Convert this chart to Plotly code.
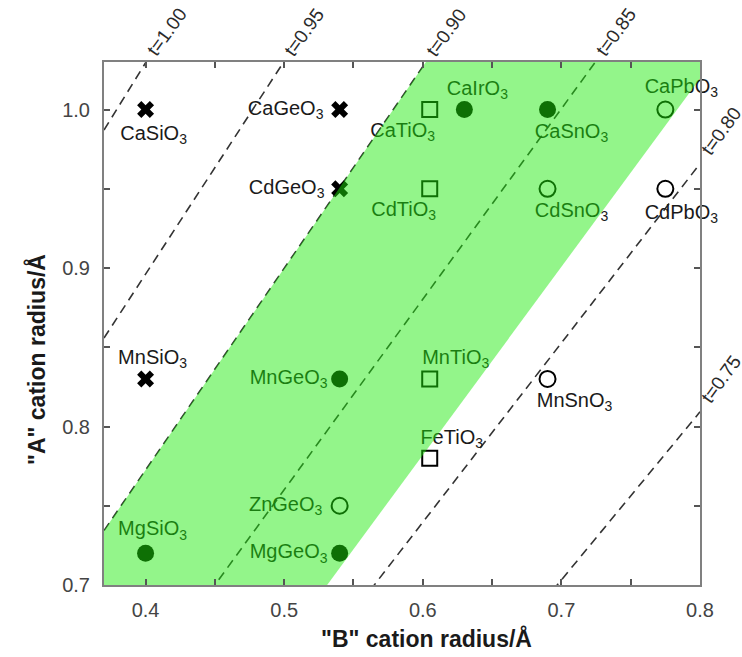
import math
import plotly.graph_objects as go

# ---- data -------------------------------------------------------------
# Six-coordinate ionic radii (Å) of the B and A cations for each ABO3 compound
cross_names = ["CaSiO3", "CaGeO3", "CdGeO3", "MnSiO3"]
cross_b = [0.40, 0.54, 0.54, 0.40]
cross_a = [1.00, 1.00, 0.95, 0.83]

filled_names = ["CaIrO3", "CaSnO3", "MnGeO3", "MgSiO3", "MgGeO3"]
filled_b = [0.63, 0.69, 0.54, 0.40, 0.54]
filled_a = [1.00, 1.00, 0.83, 0.72, 0.72]

open_names = ["CaPbO3", "CdSnO3", "CdPbO3", "MnSnO3", "ZnGeO3"]
open_b = [0.775, 0.69, 0.775, 0.69, 0.54]
open_a = [1.00, 0.95, 0.95, 0.83, 0.75]

square_names = ["CaTiO3", "CdTiO3", "MnTiO3", "FeTiO3"]
square_b = [0.605, 0.605, 0.605, 0.605]
square_a = [1.00, 0.95, 0.83, 0.78]

# Iso-tolerance-factor lines: t value and the B radius where the line meets A = 0.70 Å
tol_t = [1.00, 0.95, 0.90, 0.85, 0.80, 0.75]
tol_b0 = [0.167, 0.254, 0.343, 0.450, 0.565, 0.697]

# Shaded stability window: bounded above by t = 0.90 and below by t = 0.84
band_upper_t, band_upper_b0 = 0.90, 0.343
band_lower_t, band_lower_b0 = 0.84, 0.531

x_ticks = [0.4, 0.5, 0.6, 0.7, 0.8]
y_ticks = [0.7, 0.8, 0.9, 1.0]

# ---- layout constants ---------------------------------------------------
XR = (0.37, 0.80)
YR = (0.70, 1.03)
W, H = 742, 657
ML, MR, MT, MB = 104, 42, 62, 72
PW, PH = W - ML - MR, H - MT - MB
PX_X = PW / (XR[1] - XR[0])     # pixels per Å along x
PX_Y = PH / (YR[1] - YR[0])     # pixels per Å along y

FONT = "Liberation Sans, Arial, Helvetica, sans-serif"
INK = "#1a1a1a"

# label offsets (pixels, y up) from each marker
label_offset = {
    "CaSiO3": (8, -25), "CaGeO3": (-54, 0), "CdGeO3": (-53, 0), "MnSiO3": (7, 20),
    "CaIrO3": (13, 20), "CaSnO3": (24, -23), "MnGeO3": (-51, 0), "MgSiO3": (7, 23),
    "MgGeO3": (-51, 0), "CaPbO3": (16, 22), "CdSnO3": (24, -23), "CdPbO3": (16, -25),
    "MnSnO3": (27, -23), "ZnGeO3": (-54, 0), "CaTiO3": (-27, -22), "CdTiO3": (-26, -22),
    "MnTiO3": (26, 20), "FeTiO3": (22, 19),
}


def tol_line(t, b0, rb):
    return YR[0] + t * math.sqrt(2) * (rb - b0)


def tol_inv(t, b0, ra):
    return b0 + (ra - YR[0]) / (t * math.sqrt(2))


def chem(name):
    return name[:-1] + "<sub>" + name[-1] + "</sub>"


fig = go.Figure()

# dashed tolerance-factor lines
for t, b0 in zip(tol_t, tol_b0):
    xs = [XR[0], XR[1]]
    fig.add_trace(go.Scatter(
        x=xs, y=[tol_line(t, b0, v) for v in xs], mode="lines",
        line=dict(color="#333333", width=1.6, dash="9px,6px"),
        hoverinfo="skip", showlegend=False, cliponaxis=True))

# markers
fig.add_trace(go.Scatter(
    x=cross_b, y=cross_a, mode="markers",
    marker=dict(symbol="x", size=15, color="black", line=dict(width=0)),
    showlegend=False))
fig.add_trace(go.Scatter(
    x=filled_b, y=filled_a, mode="markers",
    marker=dict(symbol="circle", size=17, color="black", line=dict(width=0)),
    showlegend=False))
fig.add_trace(go.Scatter(
    x=open_b, y=open_a, mode="markers",
    marker=dict(symbol="circle-open", size=16, color="black", line=dict(width=2)),
    showlegend=False))
fig.add_trace(go.Scatter(
    x=square_b, y=square_a, mode="markers",
    marker=dict(symbol="square-open", size=15, color="black", line=dict(width=2)),
    showlegend=False))

# compound labels
all_names = cross_names + filled_names + open_names + square_names
all_b = cross_b + filled_b + open_b + square_b
all_a = cross_a + filled_a + open_a + square_a
lx, ly = [], []
for n, b, a in zip(all_names, all_b, all_a):
    dx, dy = label_offset[n]
    lx.append(b + dx / PX_X)
    ly.append(a + dy / PX_Y)
fig.add_trace(go.Scatter(
    x=lx, y=ly, mode="text", text=[chem(n) for n in all_names],
    textposition="middle center",
    textfont=dict(family=FONT, size=20, color=INK),
    hoverinfo="skip", showlegend=False, cliponaxis=False))

# translucent green window drawn over everything in the plot area
ux_top = tol_inv(band_upper_t, band_upper_b0, YR[1])
uy_left = tol_line(band_upper_t, band_upper_b0, XR[0])
ly_right = tol_line(band_lower_t, band_lower_b0, XR[1])
poly_x = [XR[0], band_lower_b0, XR[1], XR[1], ux_top, XR[0], XR[0]]
poly_y = [YR[0], YR[0], ly_right, YR[1], YR[1], uy_left, YR[0]]
fig.add_trace(go.Scatter(
    x=poly_x, y=poly_y, mode="lines", fill="toself",
    fillcolor="rgba(30,235,10,0.48)", line=dict(width=0),
    hoverinfo="skip", showlegend=False))

# t labels at the end of each line
annotations = []
for t, b0 in zip(tol_t, tol_b0):
    xt = tol_inv(t, b0, YR[1])
    if xt <= XR[1]:
        ex, ey, sx, sy = xt, YR[1], 20, 30
    else:
        ex, ey, sx, sy = XR[1], tol_line(t, b0, XR[1]), 21, 32
    annotations.append(dict(
        x=ex, y=ey, xref="x", yref="y", text=f"t={t:.2f}", showarrow=False,
        textangle=-54, xanchor="center", yanchor="middle", xshift=sx, yshift=sy,
        font=dict(family=FONT, size=19, color="#2a2a2a")))

annotations.append(dict(
    x=(426 - ML) / PW, y=(MT + PH - 638) / PH, xref="paper", yref="paper",
    text='<b>"B" cation radius/Å</b>', showarrow=False,
    xanchor="center", yanchor="middle",
    font=dict(family=FONT, size=23, color=INK)))
annotations.append(dict(
    x=(36 - ML) / PW, y=(MT + PH - 360) / PH, xref="paper", yref="paper",
    text='<b>"A" cation radius/Å</b>', showarrow=False, textangle=-90,
    xanchor="center", yanchor="middle",
    font=dict(family=FONT, size=23, color=INK)))

axis_common = dict(
    showgrid=False, zeroline=False, showline=True, linecolor="#808080",
    linewidth=2, mirror="ticks", ticks="inside", ticklen=6, tickwidth=1.5,
    tickcolor="#555555", tickformat=".1f",
    tickfont=dict(family=FONT, size=20, color="#444444"),
    minor=dict(ticks="inside", ticklen=6, tickwidth=1.5, tickcolor="#555555",
               dtick=0.05, showgrid=False),
)

fig.update_layout(
    width=W, height=H,
    margin=dict(l=ML, r=MR, t=MT, b=MB),
    paper_bgcolor="white", plot_bgcolor="white",
    xaxis=dict(range=list(XR), tickvals=x_ticks, ticklabelstandoff=6, **axis_common),
    yaxis=dict(range=list(YR), tickvals=y_ticks, ticklabelstandoff=8, **axis_common),
    annotations=annotations,
    showlegend=False,
)

fig.write_html("out.html")
